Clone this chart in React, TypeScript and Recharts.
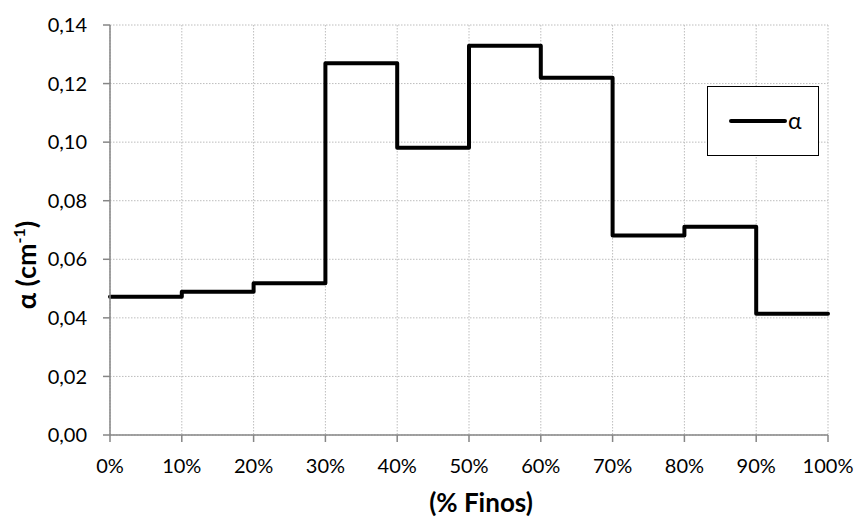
import React from "react";
import {
  LineChart,
  Line,
  XAxis,
  YAxis,
  CartesianGrid,
  Legend,
} from "recharts";

// Fines content (%) at the start of each step
const finos: number[] = [0, 10, 20, 30, 40, 50, 60, 70, 80, 90, 100];
// Attenuation coefficient α (cm⁻¹) for each interval; the last value closes the final step
const alpha: number[] = [
  0.0472, 0.0489, 0.0518, 0.1269, 0.0981, 0.1329, 0.122, 0.0681, 0.0711,
  0.0414, 0.0414,
];
const xTicks: number[] = [0, 10, 20, 30, 40, 50, 60, 70, 80, 90, 100];
const yTicks: number[] = [0, 0.02, 0.04, 0.06, 0.08, 0.1, 0.12, 0.14];

const data = finos.map((f, i) => ({ finos: f, alpha: alpha[i] }));

const FONT = "Lato, 'Open Sans', sans-serif";
const AXIS_GRAY = "#868686";

const LegendBox = (props: any) => {
  const item = (props.payload && props.payload[0]) || { value: "α" };
  return (
    <div
      style={{
        width: 112,
        height: 70,
        border: "1.3px solid #000",
        background: "#fff",
        boxSizing: "border-box",
        display: "flex",
        alignItems: "center",
        fontFamily: FONT,
      }}
    >
      <svg width={60} height={10} style={{ marginLeft: 20, flexShrink: 0 }}>
        <line
          x1={3}
          y1={5}
          x2={57}
          y2={5}
          stroke="#000"
          strokeWidth={4}
          strokeLinecap="round"
        />
      </svg>
      <span style={{ fontSize: 23, lineHeight: "26px", color: "#000", marginTop: -2 }}>
        {item.value}
      </span>
    </div>
  );
};

export default function App() {
  return (
    <div
      style={{
        position: "absolute",
        left: 0,
        top: 0,
        width: 855,
        height: 517,
        background: "#fff",
        fontFamily: FONT,
      }}
    >
      <LineChart
        width={855}
        height={517}
        data={data}
        margin={{ top: 25, right: 27, bottom: 52, left: 10 }}
      >
        <CartesianGrid
          stroke="#bdbdbd"
          strokeWidth={1}
          strokeDasharray="1.5 1.5"
          horizontalValues={yTicks}
          verticalValues={xTicks}
        />
        <XAxis
          dataKey="finos"
          type="number"
          domain={[0, 100]}
          ticks={xTicks}
          tickFormatter={(v: number) => `${v}%`}
          height={30}
          tickSize={7}
          tickMargin={17}
          stroke={AXIS_GRAY}
          strokeWidth={1.5}
          tick={{ fill: "#000", fontSize: 20, fontFamily: FONT }}
          interval={0}
        />
        <YAxis
          type="number"
          domain={[0, 0.14]}
          ticks={yTicks}
          tickFormatter={(v: number) => v.toFixed(2).replace(".", ",")}
          width={100}
          tickSize={7}
          tickMargin={16}
          stroke={AXIS_GRAY}
          strokeWidth={1.5}
          tick={{ fill: "#000", fontSize: 20, fontFamily: FONT }}
          interval={0}
        />
        <Legend
          layout="horizontal"
          verticalAlign="middle"
          align="center"
          content={LegendBox}
          wrapperStyle={{ position: "absolute", left: 707, top: 86, width: 112, height: 70 }}
        />
        <Line
          name="α"
          dataKey="alpha"
          type="stepAfter"
          stroke="#000"
          strokeWidth={4}
          strokeLinecap="round"
          strokeLinejoin="round"
          dot={false}
          activeDot={false}
          isAnimationActive={false}
        />
      </LineChart>
      <div
        style={{
          position: "absolute",
          left: 381,
          top: 489,
          width: 200,
          textAlign: "center",
          fontSize: 26,
          fontWeight: 700,
          color: "#000",
          lineHeight: "27px",
        }}
      >
        (% Finos)
      </div>
      <div
        style={{
          position: "absolute",
          left: 26,
          top: 265,
          transform: "translate(-50%, -50%) rotate(-90deg)",
          whiteSpace: "nowrap",
          fontSize: 27,
          fontWeight: 700,
          color: "#000",
          lineHeight: "30px",
        }}
      >
        α (cm<sup style={{ fontSize: 16, verticalAlign: "top", lineHeight: "16px" }}>-1</sup>)
      </div>
    </div>
  );
}
